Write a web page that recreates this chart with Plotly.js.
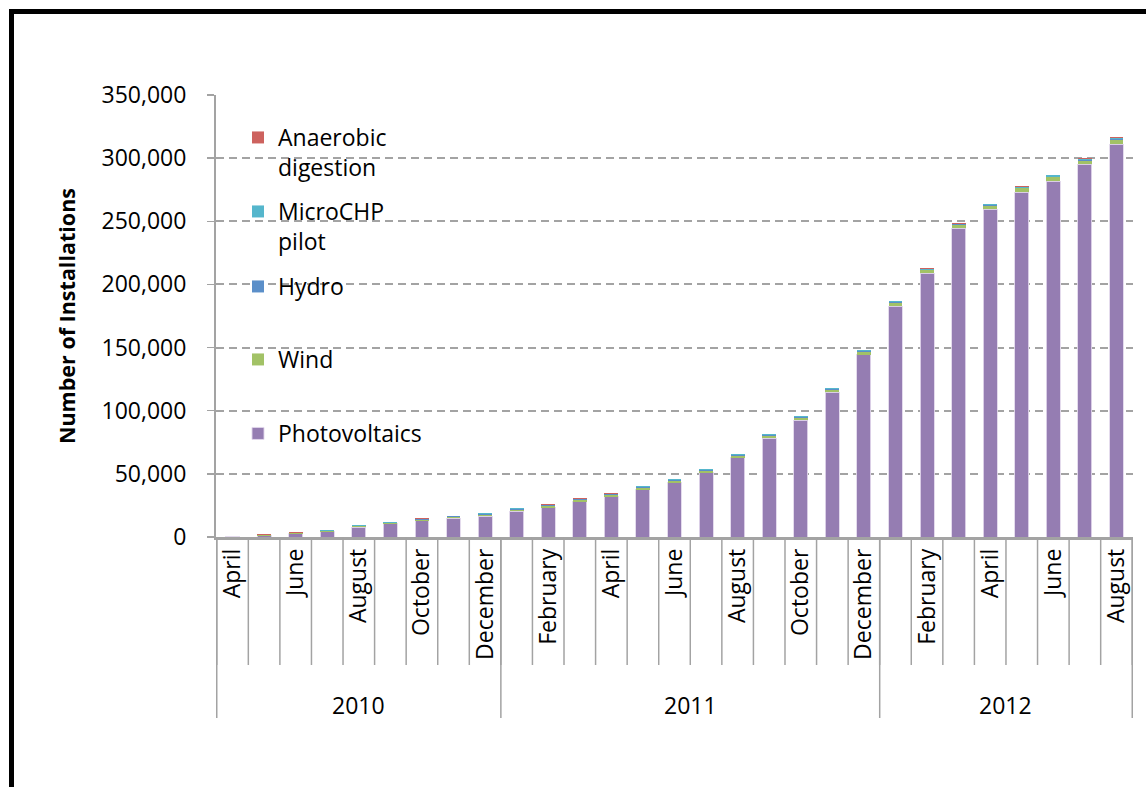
<!DOCTYPE html>
<html><head><meta charset="utf-8">
<script src="https://cdn.plot.ly/plotly-3.0.1.min.js"></script>
<style>
html,body{margin:0;padding:0;overflow:hidden;background:#fff}
#chart{width:1146px;height:787px;position:absolute;left:0;top:0}
#frame{position:absolute;left:9px;top:9px;width:1300px;height:1000px;border-top:5px solid #000;border-left:5px solid #000;pointer-events:none}
</style></head><body>
<div id="chart"></div><div id="frame"></div>
<script>
const years = [2010,2010,2010,2010,2010,2010,2010,2010,2010,
  2011,2011,2011,2011,2011,2011,2011,2011,2011,2011,2011,2011,
  2012,2012,2012,2012,2012,2012,2012,2012];
const months = ['April','May','June','July','August','September','October','November','December',
  'January','February','March','April','May','June','July','August','September','October','November','December',
  'January','February','March','April','May','June','July','August'];
const photovoltaics = [150,1000,2400,4200,7900,10300,12900,15000,16600,
  20500,23200,27900,31800,37400,42900,50800,62600,78200,92400,114700,144200,
  182900,208800,244400,259600,273100,281800,295000,311000];
const wind = [60,500,600,650,800,850,950,1000,1200,
  1250,1500,1600,1650,1700,1750,1800,1850,1950,2000,2100,2300,
  2400,2450,2550,2650,2900,3000,3100,3400];
const hydro = [20,150,180,200,230,250,270,290,320,
  330,350,370,380,390,400,410,420,440,450,470,500,
  520,540,560,580,620,660,700,750];
const microCHP = [30,300,350,380,420,460,480,500,520,
  540,560,580,600,610,620,630,640,650,660,670,690,
  700,720,740,760,800,830,860,900];
const anaerobic = [10,50,60,70,80,90,100,110,120,
  130,140,150,160,170,180,190,200,210,220,230,250,
  270,280,300,320,340,360,380,400];

const cats = months.map((m,i)=> m + ' ' + years[i]);
const tickText = months.map((m,i)=> i % 2 === 0 ? m : '');

const FONT = 'Open Sans, Lato, sans-serif';
const GRAY = '#A3A3A3';

const series = [
  {name:'Photovoltaics', y:photovoltaics, color:'#957DB2', legend:'legend5', lw:1},
  {name:'Wind', y:wind, color:'#A2C266', legend:'legend4', lw:0},
  {name:'Hydro', y:hydro, color:'#5B8FC9', legend:'legend3', lw:0},
  {name:'MicroCHP<br>pilot', y:microCHP, color:'#55B6CC', legend:'legend2', lw:0},
  {name:'Anaerobic<br>digestion', y:anaerobic, color:'#CD625E', legend:'legend', lw:0}
];
const traces = series.map(s => ({
  type:'bar', x:cats, y:s.y, name:s.name, legend:s.legend,
  marker:{color:s.color, line:{color:'rgba(225,215,235,0.9)', width:s.lw}},
  hoverinfo:'name+y'
}));

const H = 442; // plot height px
const shapes = [];
for (let i = 0; i <= cats.length; i++) {
  shapes.push({type:'line', xref:'x', yref:'paper', x0:i-0.5, x1:i-0.5, y0:0, y1:-128/H,
    line:{color:GRAY, width:1.5}});
}
const annotations = [];
let start = 0;
for (let i = 1; i <= years.length; i++) {
  if (i === years.length || years[i] !== years[start]) {
    shapes.push({type:'line', xref:'x', yref:'paper', x0:start-0.5, x1:start-0.5, y0:0, y1:-181/H, line:{color:GRAY, width:1.5}});
    if (i === years.length) shapes.push({type:'line', xref:'x', yref:'paper', x0:i-0.5, x1:i-0.5, y0:0, y1:-181/H, line:{color:GRAY, width:1.5}});
    annotations.push({xref:'x', yref:'paper', x:(start + i - 1)/2, y:-168/H, text:String(years[start]),
      showarrow:false, font:{family:FONT, size:23, color:'#000'}, yanchor:'middle'});
    start = i;
  }
}

function leg(ypx){
  return {x:(238-216)/917, y:(537-ypx)/H, xanchor:'left', yanchor:'top', bgcolor:'rgba(0,0,0,0)',
    font:{family:FONT, size:23, color:'#000'}, valign:'top', traceorder:'normal'};
}

const layout = {
  width:1146, height:787,
  margin:{l:216, r:13, t:95, b:250, pad:0},
  paper_bgcolor:'#fff', plot_bgcolor:'#fff',
  barmode:'stack', bargap:0.56,
  font:{family:FONT, size:23, color:'#000'},
  showlegend:true,
  legend:leg(116), legend2:leg(190), legend3:leg(265), legend4:leg(338), legend5:leg(412),
  xaxis:{type:'category', tickvals:cats, ticktext:tickText, tickangle:-90, ticks:'',
    showline:true, linecolor:GRAY, linewidth:2.5, showgrid:false, zeroline:false,
    tickfont:{family:FONT, size:23, color:'#000'}, fixedrange:true},
  yaxis:{range:[0,350000], dtick:50000, tickformat:',', ticks:'outside', ticklen:7, tickcolor:GRAY, tickwidth:1.5,
    showline:true, linecolor:GRAY, linewidth:2, showgrid:true, gridcolor:GRAY, gridwidth:2, griddash:'8px,5px',
    zeroline:false, ticklabelstandoff:16, tickfont:{family:FONT, size:23, color:'#000'},
    title:{text:'<b>Number of Installations</b>', standoff:20, font:{family:FONT, size:21.5, color:'#000'}}},
  shapes:shapes, annotations:annotations
};

Plotly.newPlot('chart', traces, layout, {displayModeBar:false, staticPlot:true});
</script>
</body></html>
